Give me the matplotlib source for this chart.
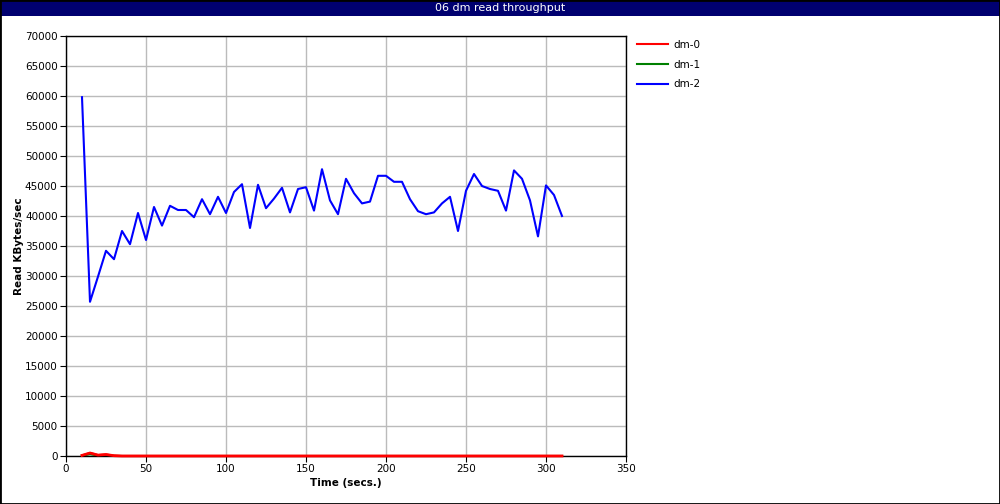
import matplotlib.pyplot as plt
from matplotlib.patches import Rectangle

## data
time_secs = list(range(10, 315, 5))
dm0 = [100, 500, 150, 250, 50] + [0] * 56
dm1 = [50, 300, 80, 120, 20] + [0] * 56
dm2 = [59800, 25700, 29900, 34200, 32800, 37500, 35300, 40500, 36000, 41500,
       38400, 41700, 41000, 41000, 39800, 42800, 40300, 43200, 40500, 44000,
       45300, 38000, 45200, 41300, 42900, 44700, 40600, 44500, 44800, 40900,
       47800, 42600, 40300, 46200, 43800, 42100, 42400, 46700, 46700, 45700,
       45700, 42800, 40800, 40300, 40600, 42100, 43200, 37500, 44200, 47000,
       45000, 44500, 44200, 40900, 47600, 46200, 42600, 36600, 45100, 43500,
       40000]

fig = plt.figure(figsize=(10, 5.04), dpi=100)
ax = fig.add_axes([66/1000, 1 - 456/504, 560/1000, 420/504])

ax.plot(time_secs, dm0, color='red', lw=1.5, label='dm-0')
ax.plot(time_secs, dm1, color='green', lw=1.5, label='dm-1')
ax.plot(time_secs, dm2, color='blue', lw=1.5, label='dm-2')
# red sits on top at zero, over the axis line
ax.plot(time_secs, dm0, color='red', lw=2, clip_on=False, zorder=5)

ax.set_xlim(0, 350)
ax.set_ylim(0, 70000)
ax.set_xticks(range(0, 351, 50))
ax.set_yticks(range(0, 70001, 5000))
ax.grid(True, color='#bbbbbb', lw=1)
ax.set_axisbelow(True)
ax.tick_params(labelsize=7.5, length=4, direction='out', pad=2)
for s in ax.spines.values():
    s.set_linewidth(1)

ax.set_xlabel('Time (secs.)', fontsize=7.5, fontweight='bold', labelpad=3)
ax.set_ylabel('Read KBytes/sec', fontsize=7.5, fontweight='bold', labelpad=1)

fig.legend(loc='upper left', bbox_to_anchor=(0.628, 0.94), frameon=False,
           fontsize=7.5, handlelength=2.9, labelspacing=0.95, handletextpad=0.6)

## title bar and outer border
fig.patches.append(Rectangle((0, 1 - 16/504), 1, 16/504, transform=fig.transFigure,
                             facecolor='#000070', edgecolor='none', zorder=0))
fig.text(0.5, 1 - 8/504, '06 dm read throughput', color='white', fontsize=8,
         ha='center', va='center')
fig.patches.append(Rectangle((0, 0), 1, 1, transform=fig.transFigure,
                             facecolor='none', edgecolor='black', lw=2, zorder=5))

plt.savefig('out.png')
